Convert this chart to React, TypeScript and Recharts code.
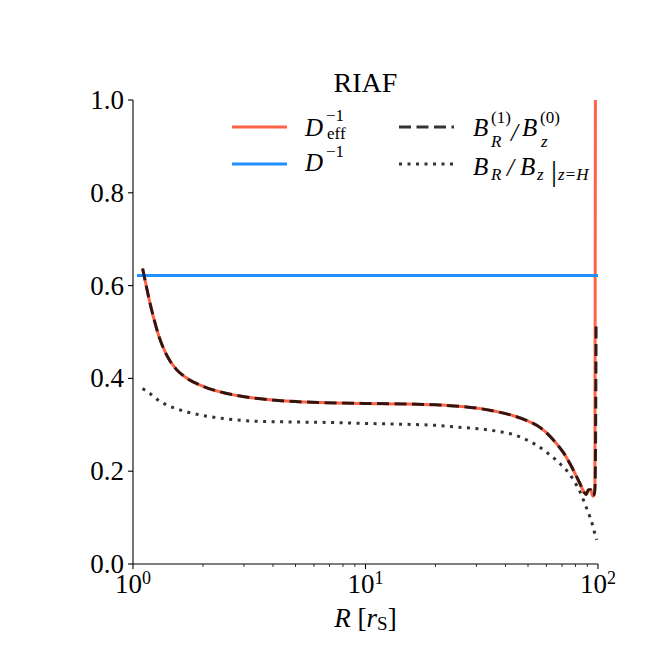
import React from 'react';
import { LineChart, Line, XAxis, YAxis, Legend } from 'recharts';

const FONT = 'Liberation Serif';

// D_eff^{-1} (red)
const R_EFF = [1.10, 1.126, 1.164, 1.223, 1.294, 1.396, 1.532, 1.70, 2.0, 2.37, 2.97, 3.88, 5.0, 6.37, 10, 15, 20, 25, 31, 37, 43, 50, 54.5, 60, 66.4, 71, 75.8, 80, 83.7, 87, 89, 91, 93, 95, 96.3, 97.0, 97.7];
const D_EFF_INV = [0.637, 0.612, 0.578, 0.533, 0.490, 0.450, 0.420, 0.401, 0.383, 0.371, 0.361, 0.354, 0.350, 0.348, 0.346, 0.345, 0.343, 0.340, 0.335, 0.328, 0.320, 0.308, 0.299, 0.283, 0.259, 0.240, 0.216, 0.193, 0.173, 0.155, 0.150, 0.160, 0.160, 0.146, 0.150, 0.168, 1.40];

// D^{-1} (blue)
const R_D = [1.04, 100];
const D_INV = [0.622, 0.622];

// B_R^(1)/B_z^(0) (dashed)
const R_RATIO = [1.10, 1.126, 1.164, 1.223, 1.294, 1.396, 1.532, 1.70, 2.0, 2.37, 2.97, 3.88, 5.0, 6.37, 10, 15, 20, 25, 31, 37, 43, 50, 54.5, 60, 66.4, 71, 75.8, 80, 83.7, 87, 89, 91, 93, 95, 96.3, 97.2, 98.2];
const B_RATIO = [0.637, 0.612, 0.578, 0.533, 0.490, 0.450, 0.420, 0.401, 0.383, 0.371, 0.361, 0.354, 0.350, 0.348, 0.346, 0.345, 0.343, 0.340, 0.335, 0.328, 0.320, 0.308, 0.299, 0.283, 0.259, 0.240, 0.216, 0.193, 0.173, 0.155, 0.150, 0.160, 0.160, 0.148, 0.150, 0.170, 0.520];

// B_R/B_z|_{z=H} (dotted)
const R_DOT = [1.10, 1.2, 1.3, 1.44, 1.7, 2.0, 2.5, 3.29, 5, 7, 10, 15, 20, 25, 32.7, 38, 43.2, 50, 54.5, 60, 64, 69, 73.2, 78, 81, 84, 86.7, 89.5, 92.4, 95, 97.3, 98.7];
const B_SURF = [0.378, 0.365, 0.351, 0.340, 0.328, 0.320, 0.313, 0.308, 0.306, 0.305, 0.303, 0.301, 0.299, 0.295, 0.290, 0.285, 0.279, 0.266, 0.256, 0.241, 0.230, 0.215, 0.202, 0.183, 0.169, 0.154, 0.137, 0.119, 0.101, 0.082, 0.062, 0.052];

const X_TICKS = [1, 2, 3, 4, 5, 6, 7, 8, 9, 10, 20, 30, 40, 50, 60, 70, 80, 90, 100];
const X_MAJOR = [1, 10, 100];
const Y_TICKS = [0, 0.2, 0.4, 0.6, 0.8, 1.0];
const TITLE = 'RIAF';

const effData = R_EFF.map((r, i) => ({ r, v: D_EFF_INV[i] }));
const dData = R_D.map((r, i) => ({ r, v: D_INV[i] }));
const ratioData = R_RATIO.map((r, i) => ({ r, v: B_RATIO[i] }));
const surfData = R_DOT.map((r, i) => ({ r, v: B_SURF[i] }));

const XTick = (props: any) => {
  const { x, y, payload } = props;
  const v = payload.value;
  const major = X_MAJOR.includes(v);
  return (
    <g>
      <line x1={x} x2={x} y1={y} y2={y + (major ? 5 : 3)} stroke="#000" strokeWidth={major ? 1.1 : 0.8} />
      {major && (
        <text x={x} y={y + 29} textAnchor="middle" fontFamily={FONT} fontSize={27} fill="#000">
          10<tspan dy={-9} fontSize={18}>{String(Math.round(Math.log10(v)))}</tspan>
        </text>
      )}
    </g>
  );
};

const YTick = (props: any) => {
  const { x, y, payload } = props;
  return (
    <text x={x} y={y + 9} textAnchor="end" fontFamily={FONT} fontSize={27} fill="#000">
      {Number(payload.value).toFixed(1)}
    </text>
  );
};

const XLabel = (props: any) => {
  const vb = props.viewBox || { x: 133, y: 564, width: 465 };
  const cx = vb.x + vb.width / 2;
  return (
    <text x={cx} y={vb.y + 63} textAnchor="middle" fontFamily={FONT} fontSize={27} fill="#000">
      <tspan fontStyle="italic">R</tspan>
      <tspan> [</tspan>
      <tspan fontStyle="italic">r</tspan>
      <tspan fontSize={19} dy={3}>S</tspan>
      <tspan dy={-3}>]</tspan>
    </text>
  );
};

const T = ({ x, y, size, italic, children }: any) => (
  <text x={x} y={y} fontSize={size} fontStyle={italic ? 'italic' : 'normal'} fontFamily={FONT} fill="#000">
    {children}
  </text>
);

const BIG = 25;
const SM = 17;

const LEGEND_LAYOUT: Record<string, { lx: number; ly: number; tx: number }> = {
  Deff: { lx: 232, ly: 127, tx: 305 },
  D: { lx: 232, ly: 164, tx: 305 },
  ratio: { lx: 399, ly: 127, tx: 473 },
  surf: { lx: 399, ly: 164, tx: 473 },
};

const legendText = (name: string, tx: number, ly: number) => {
  if (name === 'Deff') {
    return (
      <g>
        <T x={tx} y={ly + 9} size={BIG} italic>D</T>
        <T x={tx + 21} y={ly - 6} size={SM}>−1</T>
        <T x={tx + 22} y={ly + 12} size={SM}>eff</T>
      </g>
    );
  }
  if (name === 'D') {
    return (
      <g>
        <T x={tx} y={ly + 7} size={BIG} italic>D</T>
        <T x={tx + 21} y={ly - 7} size={SM}>−1</T>
      </g>
    );
  }
  if (name === 'ratio') {
    return (
      <g>
        <T x={tx} y={ly + 9} size={BIG} italic>B</T>
        <T x={tx + 18} y={ly - 4} size={SM}>(1)</T>
        <T x={tx + 18} y={ly + 20} size={SM} italic>R</T>
        <T x={tx + 38} y={ly + 14} size={BIG} italic>/</T>
        <T x={tx + 49} y={ly + 9} size={BIG} italic>B</T>
        <T x={tx + 67} y={ly - 4} size={SM}>(0)</T>
        <T x={tx + 68} y={ly + 20} size={SM} italic>z</T>
      </g>
    );
  }
  return (
    <g>
      <T x={tx} y={ly + 11} size={BIG} italic>B</T>
      <T x={tx + 18} y={ly + 16} size={SM} italic>R</T>
      <T x={tx + 34} y={ly + 12} size={BIG} italic>/</T>
      <T x={tx + 47} y={ly + 11} size={BIG} italic>B</T>
      <T x={tx + 64} y={ly + 16} size={SM} italic>z</T>
      <T x={tx + 78} y={ly + 17} size={30}>|</T>
      <text x={tx + 85} y={ly + 16} fontSize={SM} fontFamily={FONT} fill="#000">
        <tspan fontStyle="italic">z</tspan>
        <tspan dx={1}>=</tspan>
        <tspan fontStyle="italic" dx={1}>H</tspan>
      </text>
    </g>
  );
};

const LegendContent = (props: any) => {
  const payload = props.payload || [];
  return (
    <svg width={664} height={664} style={{ position: 'absolute', left: 0, top: 0, overflow: 'visible', pointerEvents: 'none' }}>
      {payload.map((entry: any, i: number) => {
        const name = entry.value;
        const pos = LEGEND_LAYOUT[name];
        if (!pos) return null;
        const p = entry.payload || {};
        return (
          <g key={i}>
            <line
              x1={pos.lx}
              x2={pos.lx + 55}
              y1={pos.ly}
              y2={pos.ly}
              stroke={entry.color}
              strokeWidth={3}
              strokeDasharray={p.strokeDasharray}
              strokeOpacity={p.strokeOpacity ?? 1}
            />
            {legendText(name, pos.tx, pos.ly)}
          </g>
        );
      })}
    </svg>
  );
};

export default function App() {
  return (
    <div style={{ position: 'absolute', left: 0, top: 0, width: 664, height: 664, background: '#fff' }}>
      <svg width={664} height={100} style={{ position: 'absolute', left: 0, top: 0, pointerEvents: 'none' }}>
        <text x={365.5} y={92} textAnchor="middle" fontFamily={FONT} fontSize={28} fill="#000">{TITLE}</text>
      </svg>
      <LineChart width={664} height={664} margin={{ top: 100, right: 66, bottom: 40, left: 73 }}>
        <XAxis
          xAxisId="x"
          dataKey="r"
          type="number"
          scale="log"
          domain={[1, 100]}
          allowDataOverflow
          ticks={X_TICKS}
          interval={0}
          tickSize={0}
          tickMargin={0}
          tickLine={false}
          axisLine={{ stroke: '#000', strokeWidth: 1.1 }}
          height={60}
          tick={<XTick />}
          label={{ content: XLabel }}
        />
        <XAxis
          xAxisId="xt"
          orientation="top"
          type="number"
          scale="log"
          domain={[1, 100]}
          allowDataOverflow
          tick={false}
          tickLine={false}
          height={0}
          axisLine={{ stroke: '#000', strokeWidth: 1.1 }}
        />
        <YAxis
          yAxisId="y"
          type="number"
          domain={[0, 1]}
          allowDataOverflow
          ticks={Y_TICKS}
          interval={0}
          tickSize={5}
          tickMargin={4}
          tickLine={{ stroke: '#000', strokeWidth: 1.1 }}
          axisLine={{ stroke: '#000', strokeWidth: 1.1 }}
          width={60}
          tick={<YTick />}
        />
        <YAxis
          yAxisId="yr"
          orientation="right"
          type="number"
          domain={[0, 1]}
          allowDataOverflow
          tick={false}
          tickLine={false}
          width={0}
          axisLine={{ stroke: '#000', strokeWidth: 1.1 }}
        />
        <Legend
          verticalAlign="middle"
          align="center"
          layout="horizontal"
          wrapperStyle={{ left: 0, top: 0, width: 664, height: 664, pointerEvents: 'none' }}
          content={LegendContent}
        />
        <Line xAxisId="x" yAxisId="y" data={effData} dataKey="v" name="Deff" type="monotone" stroke="#FF6347" strokeWidth={3} dot={false} isAnimationActive={false} />
        <Line xAxisId="x" yAxisId="y" data={dData} dataKey="v" name="D" type="linear" stroke="#1E90FF" strokeWidth={3} dot={false} isAnimationActive={false} />
        <Line xAxisId="x" yAxisId="y" data={ratioData} dataKey="v" name="ratio" type="monotone" stroke="#000" strokeOpacity={0.8} strokeWidth={3} strokeDasharray="12 5.5" dot={false} isAnimationActive={false} />
        <Line xAxisId="x" yAxisId="y" data={surfData} dataKey="v" name="surf" type="monotone" stroke="#000" strokeOpacity={0.8} strokeWidth={3} strokeDasharray="3 5.5" dot={false} isAnimationActive={false} />
      </LineChart>
    </div>
  );
}
